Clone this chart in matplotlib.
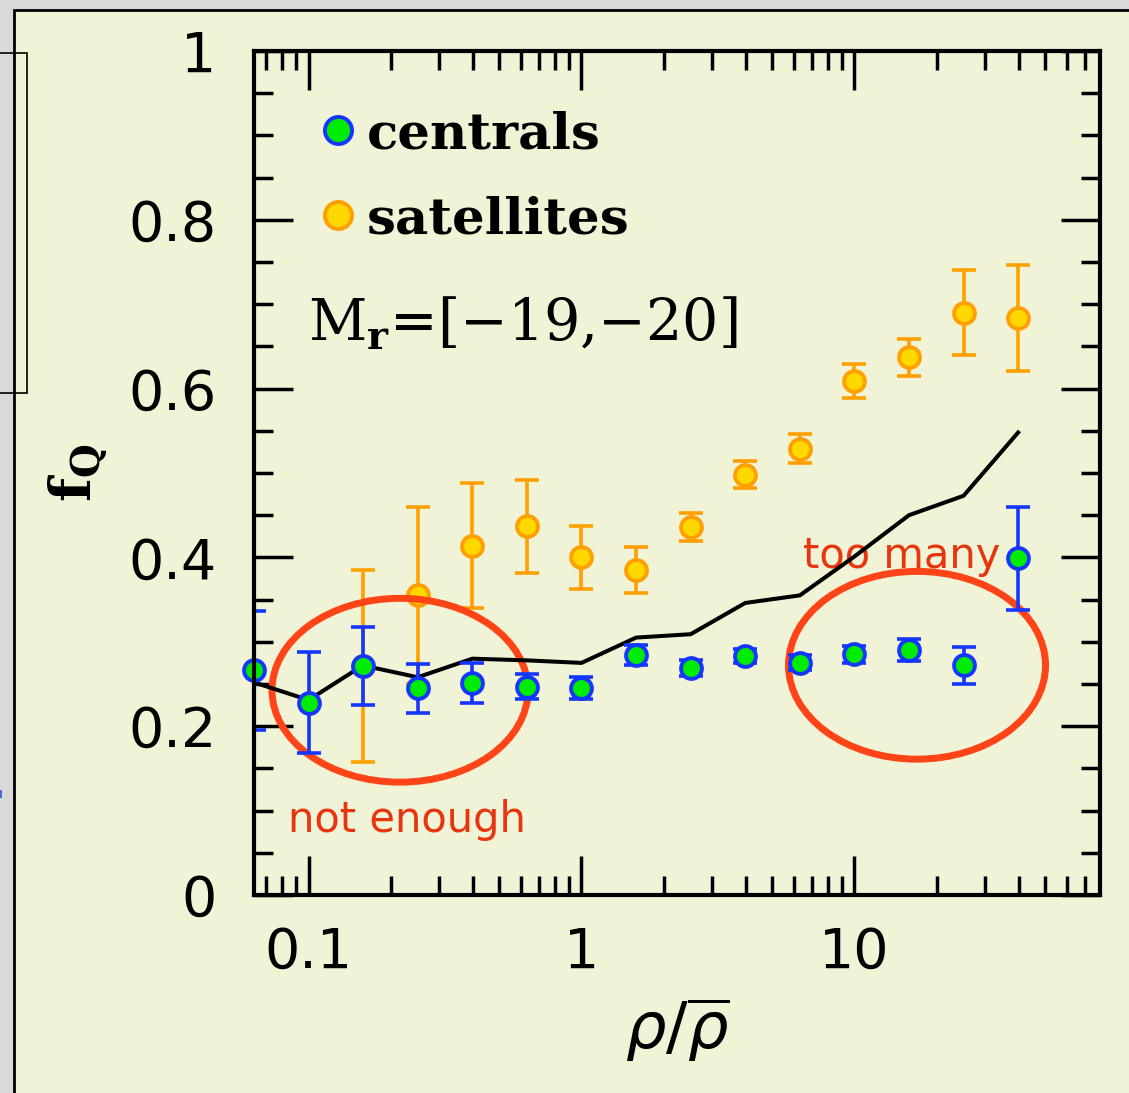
import numpy as np
import matplotlib
matplotlib.use('Agg')
import matplotlib.pyplot as plt
from matplotlib.patches import Ellipse, Rectangle
from matplotlib.ticker import LogLocator, MultipleLocator, FixedLocator, NullFormatter

# density bins (rho / mean rho)
x_bins = [0.063, 0.1, 0.158, 0.251, 0.398, 0.631, 1.0, 1.585, 2.512, 3.981,
          6.31, 10.0, 15.85, 25.12, 39.81]

# quenched fraction of centrals
cen_y = [0.266, 0.228, 0.271, 0.245, 0.251, 0.247, 0.245, 0.284, 0.269, 0.283,
         0.275, 0.285, 0.290, 0.272, 0.399]
cen_err = [0.070, 0.060, 0.046, 0.029, 0.024, 0.015, 0.013, 0.012, 0.010, 0.008,
           0.009, 0.010, 0.013, 0.022, 0.061]

# quenched fraction of satellites
sat_x = [0.158, 0.251, 0.398, 0.631, 1.0, 1.585, 2.512, 3.981, 6.31, 10.0,
         15.85, 25.12, 39.81]
sat_y = [0.271, 0.355, 0.414, 0.437, 0.400, 0.385, 0.436, 0.498, 0.529, 0.609,
         0.637, 0.690, 0.684]
sat_err = [0.114, 0.105, 0.074, 0.055, 0.037, 0.027, 0.017, 0.016, 0.017, 0.020,
           0.022, 0.050, 0.063]

# model curve
line_y = [0.252, 0.231, 0.272, 0.258, 0.280, 0.278, 0.275, 0.305, 0.309, 0.346,
          0.355, 0.401, 0.450, 0.473, 0.548]

ytick_vals = [0, 0.2, 0.4, 0.6, 0.8, 1.0]
ytick_labels = ['0', '0.2', '0.4', '0.6', '0.8', '1']
xtick_vals = [0.1, 1, 10]
xtick_labels = ['0.1', '1', '10']

bg = '#f0f3d6'
blue = '#1436ff'
green = '#00ec00'
orange = '#ffa000'
gold = '#ffd800'
red = '#ff4418'

plt.rcParams['font.family'] = ['DejaVu Sans']

fig = plt.figure(figsize=(11.29, 10.93), dpi=100)
fig.patch.set_facecolor('#d9d9d9')

# slide frame
fig.patches.append(Rectangle((14/1129, -0.02), 1.05, 1 - 10/1093 + 0.02, transform=fig.transFigure,
                             facecolor=bg, edgecolor='black', lw=2, zorder=-2))
fig.patches.append(Rectangle((-0.01, 1 - 393/1093), 27/1129 + 0.01, 340/1093, transform=fig.transFigure,
                             fill=False, edgecolor='black', lw=1.2, zorder=-1))
fig.patches.append(Rectangle((0, 1 - 798/1093), 2/1129, 8/1093, transform=fig.transFigure,
                             facecolor='#3a6fd8', edgecolor='none', zorder=-1))

ax = fig.add_axes([254/1129, 1 - 895/1093, 846/1129, 844/1093])
ax.set_zorder(2)
ax.set_facecolor(bg)
ax.set_xscale('log')
ax.set_xlim(10**-1.2, 10**1.9)
ax.set_ylim(0, 1)

# satellites
ax.errorbar(sat_x, sat_y, yerr=sat_err, fmt='none', ecolor=orange, elinewidth=2.6,
            capsize=8.3, capthick=2.6, zorder=2)
sat_pts, = ax.plot(sat_x, sat_y, 'o', ms=15, mfc=gold, mec=orange, mew=2.8, zorder=3,
                   label='satellites')

# highlight ellipses
for cx, cy, w, h in [(0.1726, 0.2426, 0.3026, 0.2178), (0.7837, 0.2722, 0.3038, 0.2225)]:
    ax.add_patch(Ellipse((cx, cy), w, h, transform=ax.transAxes, fill=False,
                         edgecolor=red, lw=5, zorder=4))

ax.plot(x_bins, line_y, color='black', lw=2.9, zorder=5)

# centrals
ax.errorbar(x_bins, cen_y, yerr=cen_err, fmt='none', ecolor=blue, elinewidth=2.6,
            capsize=8.3, capthick=2.6, zorder=6)
cen_pts, = ax.plot(x_bins, cen_y, 'o', ms=15, mfc=green, mec=blue, mew=2.8, zorder=7,
                   clip_on=False, label='centrals')

# axes styling
for s in ax.spines.values():
    s.set_linewidth(3)
    s.set_zorder(8)
ax.xaxis.set_major_locator(FixedLocator(xtick_vals))
ax.set_xticklabels(xtick_labels)
ax.xaxis.set_minor_locator(LogLocator(base=10, subs=np.arange(2, 10)))
ax.xaxis.set_minor_formatter(NullFormatter())
ax.set_yticks(ytick_vals)
ax.set_yticklabels(ytick_labels)
ax.yaxis.set_minor_locator(MultipleLocator(0.05))
ax.tick_params(which='both', direction='in', top=True, right=True, width=2.5, labelsize=40)
ax.tick_params(which='major', length=28)
ax.tick_params(which='minor', length=14)
ax.tick_params(axis='y', which='major', pad=27)
ax.tick_params(axis='x', which='major', pad=22)

ax.set_xlabel(r'$\rho/\overline{\rho}$', fontsize=46, labelpad=12)
ax.set_ylabel(r'$\mathbf{f_Q}$', fontsize=40, labelpad=14, math_fontfamily='dejavuserif')

leg = ax.legend(handles=[cen_pts, sat_pts], loc='upper left',
                bbox_to_anchor=(0.057, 0.954), frameon=False, handlelength=0.6,
                handletextpad=0.25, labelspacing=0.7, markerscale=1.3,
                borderaxespad=0, prop={'family': 'DejaVu Serif', 'size': 37, 'weight': 'bold'})

ax.text(0.064, 0.657, r'M$_\mathbf{r}$=[$-$19,$-$20]', transform=ax.transAxes,
        fontsize=41, family='DejaVu Serif', math_fontfamily='dejavuserif', va='baseline')
ax.text(0.040, 0.0746, 'not enough', transform=ax.transAxes, fontsize=30,
        color='#e6350f', va='baseline')
ax.text(0.649, 0.387, 'too many', transform=ax.transAxes, fontsize=30,
        color='#e6350f', va='baseline')

fig.savefig('out.png', dpi=100, facecolor=fig.get_facecolor())
